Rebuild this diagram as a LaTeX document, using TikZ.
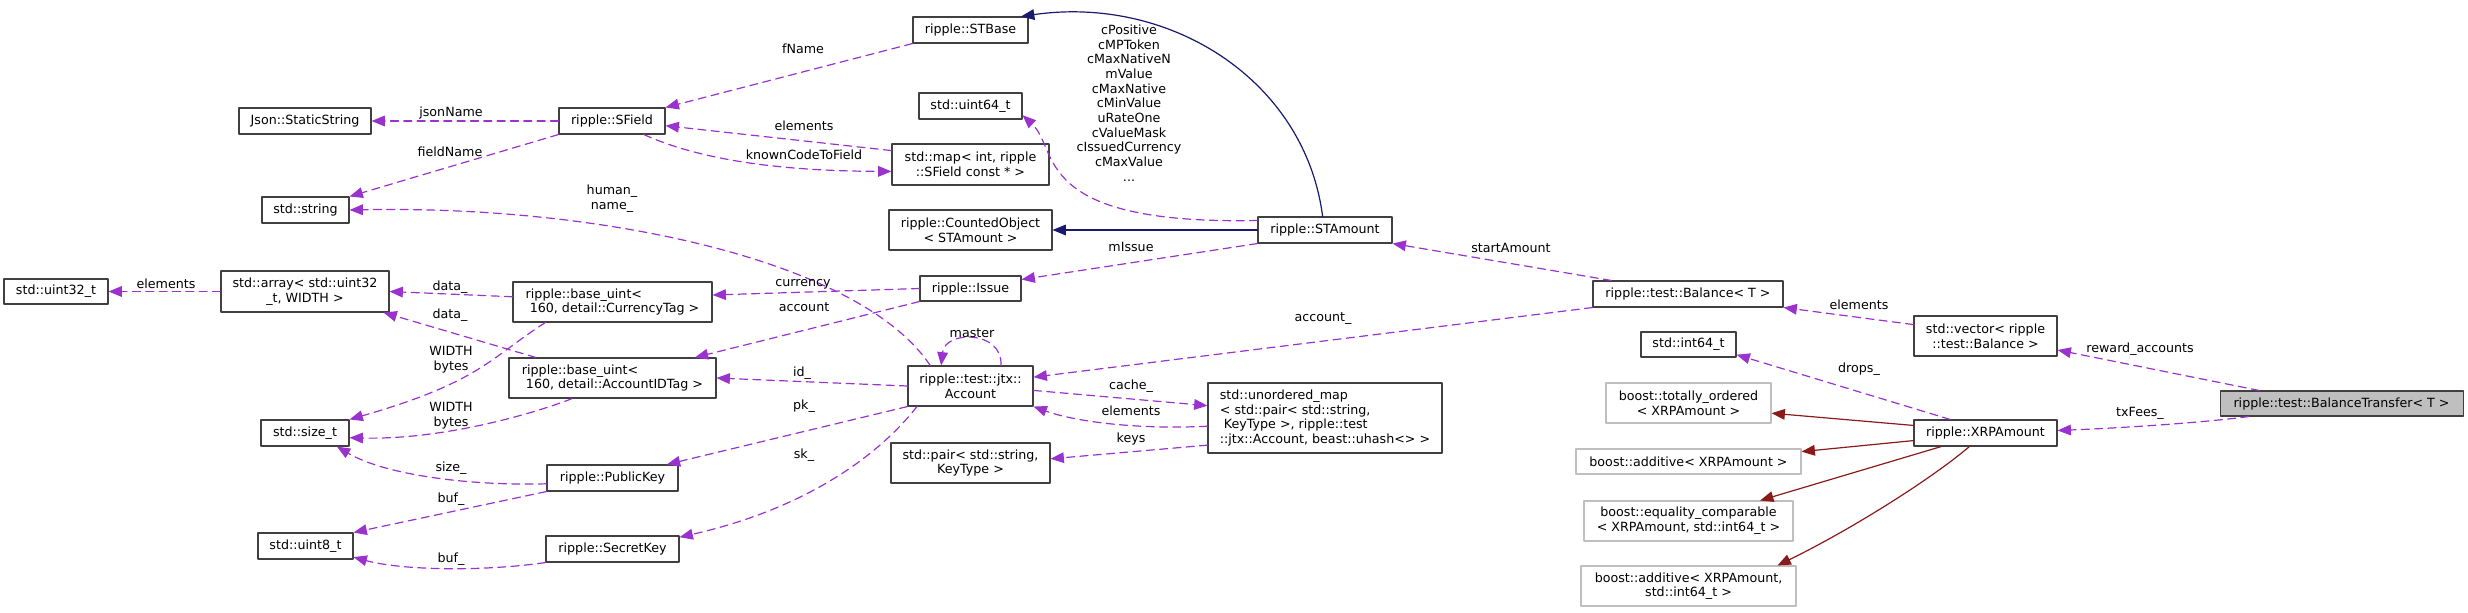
\documentclass[tikz,border=0pt]{standalone}
\usepackage{fontspec}
\setmainfont{DejaVu Sans}
\usetikzlibrary{arrows.meta}
\definecolor{edgeuse}{HTML}{9A32CD}
\definecolor{edgepub}{HTML}{191970}
\definecolor{edgepriv}{HTML}{8B1A1A}
\definecolor{boxline}{HTML}{404040}
\definecolor{boxgrey}{HTML}{BFBFBF}

\begin{document}
\begin{tikzpicture}[x=0.75pt,y=-0.75pt,line cap=round,line join=round,
  every node/.style={font=\fontsize{9.5}{11}\selectfont},
  cls/.style 2 args={draw=boxline,line width=0.8pt,fill=white,inner sep=0pt,align=center,
    minimum width=#1*0.75pt,minimum height=#2*0.75pt},
  ext/.style={draw=boxgrey},
  root/.style={fill=boxgrey},
  lbl/.style={inner sep=0pt,align=center},
  member/.style={draw=edgeuse,line width=0.9pt,dash pattern=on 6pt off 4pt,-{Triangle[length=10pt,width=8pt]}},
  pubinh/.style={draw=edgepub,line width=0.9pt,-{Triangle[length=10pt,width=8pt]}},
  privinh/.style={draw=edgepriv,line width=0.9pt,-{Triangle[length=10pt,width=8pt]}}]
\path[use as bounding box] (0,0) rectangle (2468,612);
% classes, one column per rank
\node[cls={104}{25}] (uint32) at (56,291.5) {std::uint32\_t};
\node[cls={132}{26}] (json) at (305,121) {Json::StaticString};
\node[cls={87}{26}] (string) at (305.5,210) {std::string};
\node[cls={168}{41}] (array) at (305,291.5) {std::array< std::uint32\\\_t, WIDTH >};
\node[cls={88}{26}] (sizet) at (305,433) {std::size\_t};
\node[cls={95}{26}] (uint8) at (305.5,546) {std::uint8\_t};
\node[cls={106}{26}] (sfield) at (612,121) {ripple::SField};
\node[cls={199}{40},align=left] (curtag) at (612.5,302) {ripple::base\_uint<\\\ 160, detail::CurrencyTag >};
\node[cls={207}{40},align=left] (accid) at (612.5,378) {ripple::base\_uint<\\\ 160, detail::AccountIDTag >};
\node[cls={131}{26}] (pubkey) at (612.5,478) {ripple::PublicKey};
\node[cls={133}{26}] (seckey) at (612.5,549) {ripple::SecretKey};
\node[cls={115}{26}] (stbase) at (970.5,30) {ripple::STBase};
\node[cls={103}{26}] (uint64) at (970.5,106) {std::uint64\_t};
\node[cls={157}{41}] (stdmap) at (970.5,164.5) {std::map< int, ripple\\::SField const * >};
\node[cls={163}{40}] (counted) at (970.5,230) {ripple::CountedObject\\< STAmount >};
\node[cls={101}{25}] (issue) at (970.5,288.5) {ripple::Issue};
\node[cls={125}{40}] (account) at (970.5,386) {ripple::test::jtx::\\Account};
\node[cls={159}{40}] (pair) at (970.5,463) {std::pair< std::string,\\KeyType >};
\node[cls={134}{26}] (stamount) at (1325,230) {ripple::STAmount};
\node[cls={234}{70},align=left] (umap) at (1325,418) {std::unordered\_map\\< std::pair< std::string,\\\ KeyType >, ripple::test\\::jtx::Account, beast::uhash<> >};
\node[cls={190}{26}] (balance) at (1688,294) {ripple::test::Balance< T >};
\node[cls={95}{25}] (int64) at (1688.5,344.5) {std::int64\_t};
\node[cls={165}{40},ext] (totord) at (1688.5,403) {boost::totally\_ordered\\< XRPAmount >};
\node[cls={225}{25},ext] (addx) at (1688.5,461.5) {boost::additive< XRPAmount >};
\node[cls={209}{40},ext] (eqcmp) at (1688.5,521) {boost::equality\_comparable\\< XRPAmount, std::int64\_t >};
\node[cls={215}{40},ext] (addxi) at (1688.5,586) {boost::additive< XRPAmount,\\std::int64\_t >};
\node[cls={143}{40}] (vector) at (1985.5,336) {std::vector< ripple\\::test::Balance >};
\node[cls={143}{26}] (xrp) at (1985.5,433) {ripple::XRPAmount};
\node[cls={243}{25},root] (bt) at (2341.5,403.5) {ripple::test::BalanceTransfer< T >};
% usage edges
\draw[member] (sfield.west) -- (json.east);
\draw[member] (sfield.south west) -- (string.north east);
\draw[member] (stbase.south west) -- (sfield.north east);
\draw[member] (stdmap.170) -- (sfield.-5);
\draw[member] (sfield.-23) .. controls (700,160) and (780,171) .. (stdmap.185);
\draw[member] (account.153) .. controls (860,260) and (600,205) .. (string.east);
\draw[member] (array.west) -- (uint32.east);
\draw[member] (curtag.177) -- (array.east);
\draw[member] (accid.165) -- (array.-15);
\draw[member] (curtag.197) .. controls (490,358) and (480,382) .. (sizet.north east);
\draw[member] (accid.207) .. controls (530,415) and (440,440) .. (sizet.-6);
\draw[member] (pubkey.185) .. controls (470,486) and (385,475) .. (sizet.-23);
\draw[member] (pubkey.south west) -- (uint8.north east);
\draw[member] (seckey.south west) .. controls (480,572) and (400,570) .. (uint8.-13);
\draw[member] (issue.west) -- (curtag.4);
\draw[member] (issue.south west) -- (accid.14);
\draw[member] (stamount.south west) -- (issue.10);
\draw[member] (stamount.172) .. controls (1030,225) and (1060,150) .. (uint64.-10);
\draw[member] (account.west) -- (accid.east);
\draw[member] (account.south west) -- (pubkey.14);
\draw[member] (account.201) .. controls (875,460) and (800,510) .. (seckey.10);
\draw[member] (account.34) .. controls (1003,330) and (945,330) .. (account.145);
\draw[member] (account.-4) -- (umap.174);
\draw[member] (umap.184) .. controls (1130,430) and (1070,420) .. (account.south east);
\draw[member] (umap.193) -- (pair.3);
\draw[member] (balance.south west) -- (account.8);
\draw[member] (balance.170) -- (stamount.south east);
\draw[member] (vector.171) -- (balance.south east);
\draw[member] (xrp.159) -- (int64.-12);
\draw[member] (bt.171) -- (vector.-11);
\draw[member] (bt.188) .. controls (2200,423) and (2120,428) .. (xrp.2);
% inheritance
\draw[pubinh] (stamount.100) .. controls (1305,80) and (1170,-5) .. (stbase.15);
\draw[pubinh] (stamount.west) -- (counted.east);
\draw[privinh] (xrp.174) -- (totord.-7);
\draw[privinh] (xrp.186) -- (addx.5);
\draw[privinh] (xrp.197) -- (eqcmp.16);
\draw[privinh] (xrp.220) .. controls (1930,480) and (1850,530) .. (addxi.13);
% edge labels
\node[lbl] (ljson) at (451,113) {jsonName};
\node[lbl] (lfield) at (450,152) {fieldName};
\node[lbl] (lhuman) at (612,199) {human\_\\name\_};
\node[lbl] (lelem1) at (166,284) {elements};
\node[lbl] (ldata1) at (450,287) {data\_};
\node[lbl] (ldata2) at (450,315) {data\_};
\node[lbl] (lwidth1) at (451,360) {WIDTH\\bytes};
\node[lbl] (lwidth2) at (451,416) {WIDTH\\bytes};
\node[lbl] (lsize) at (451,468) {size\_};
\node[lbl] (lbuf1) at (451,499) {buf\_};
\node[lbl] (lbuf2) at (451,559) {buf\_};
\node[lbl] (lfname) at (803,49) {fName};
\node[lbl] (lelem2) at (804,126) {elements};
\node[lbl] (lknown) at (804,155) {knownCodeToField};
\node[lbl] (lconst) at (1129,103) {cPositive\\cMPToken\\cMaxNativeN\\mValue\\cMaxNative\\cMinValue\\uRateOne\\cValueMask\\cIssuedCurrency\\cMaxValue\\...};
\node[lbl] (lissue) at (1131,247) {mIssue};
\node[lbl] (lcur) at (803,284) {currency};
\node[lbl] (lacc) at (804,307) {account};
\node[lbl] (lmaster) at (972,333) {master};
\node[lbl] (lid) at (802,373) {id\_};
\node[lbl] (lpk) at (804,406) {pk\_};
\node[lbl] (lsk) at (804,455) {sk\_};
\node[lbl] (lcache) at (1131,386) {cache\_};
\node[lbl] (lelem3) at (1131,411) {elements};
\node[lbl] (lkeys) at (1131,439) {keys};
\node[lbl] (lacc2) at (1323,319) {account\_};
\node[lbl] (lstart) at (1511,248) {startAmount};
\node[lbl] (lelem4) at (1859,305) {elements};
\node[lbl] (ldrops) at (1859,369) {drops\_};
\node[lbl] (lreward) at (2140,349) {reward\_accounts};
\node[lbl] (lfees) at (2140,413) {txFees\_};
\end{tikzpicture}
\end{document}
